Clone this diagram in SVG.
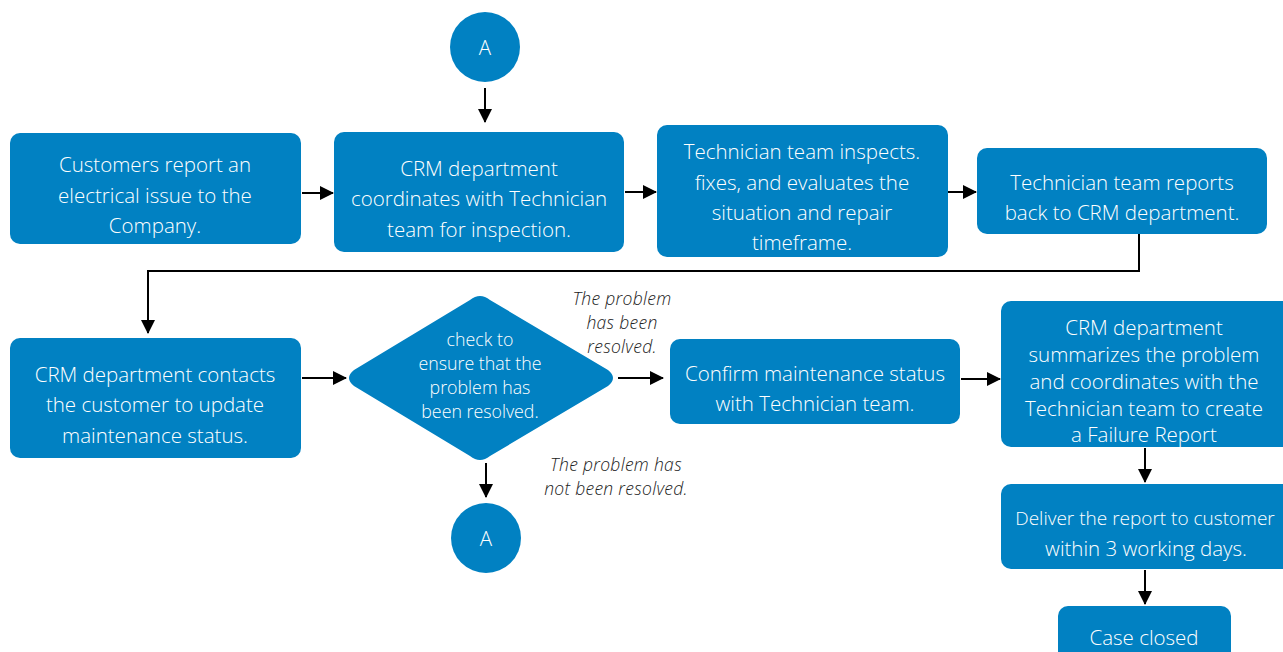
<svg xmlns="http://www.w3.org/2000/svg" width="1283" height="652" viewBox="0 0 1283 652">
  <style>
    .box { fill: #0181c2; }
    .txt { font-family: "Open Sans", "Liberation Sans", sans-serif; font-weight: 300; font-size: 20.5px; fill: #ffffff; text-anchor: middle; dominant-baseline: central; }
    .dtxt { font-size: 17.8px; }
    .note { font-family: "Open Sans", "Liberation Sans", sans-serif; font-weight: 300; font-style: italic; font-size: 17.5px; letter-spacing: 0.3px; fill: #222222; text-anchor: middle; dominant-baseline: central; }
    .conn { fill: none; stroke: #000000; stroke-width: 2; marker-end: url(#arrow); }
  </style>
  <defs>
    <marker id="arrow" markerWidth="14" markerHeight="14" refX="13" refY="7" orient="auto" markerUnits="userSpaceOnUse">
      <path d="M0,0 L14,7 L0,14 Z" fill="#000000"/>
    </marker>
  </defs>

  <rect width="1283" height="652" fill="#ffffff"/>

  <!-- connectors -->
  <g id="connectors">
    <line class="conn" x1="485" y1="88" x2="485" y2="122"/>
    <line class="conn" x1="302" y1="193" x2="333" y2="193"/>
    <line class="conn" x1="625" y1="192" x2="656" y2="192"/>
    <line class="conn" x1="948" y1="192" x2="976" y2="192"/>
    <polyline class="conn" points="1139,234 1139,271 148,271 148,333"/>
    <line class="conn" x1="302" y1="378" x2="346" y2="378"/>
    <line class="conn" x1="618" y1="378" x2="663" y2="378"/>
    <line class="conn" x1="961" y1="379" x2="1000" y2="379"/>
    <line class="conn" x1="1145" y1="448" x2="1145" y2="482"/>
    <line class="conn" x1="1145" y1="570" x2="1145" y2="604"/>
    <line class="conn" x1="486" y1="463" x2="486" y2="497"/>
  </g>

  <!-- connector A (top) -->
  <g id="connector-a-top">
    <ellipse class="box" cx="485" cy="47" rx="35" ry="35"/>
    <text class="txt" x="485" y="47">A</text>
  </g>

  <g id="customer-report">
    <rect class="box" x="10" y="133" width="291" height="111" rx="10"/>
    <text class="txt" x="155" y="164">Customers report an</text>
    <text class="txt" x="155" y="195">electrical issue to the</text>
    <text class="txt" x="155" y="225">Company.</text>
  </g>

  <g id="crm-coordinates">
    <rect class="box" x="334" y="132" width="290" height="120" rx="10"/>
    <text class="txt" x="479" y="168">CRM department</text>
    <text class="txt" x="479" y="198">coordinates with Technician</text>
    <text class="txt" x="479" y="229">team for inspection.</text>
  </g>

  <g id="technician-inspects">
    <rect class="box" x="657" y="125" width="291" height="132" rx="10"/>
    <text class="txt" x="802" y="151">Technician team inspects.</text>
    <text class="txt" x="802" y="182">fixes, and evaluates the</text>
    <text class="txt" x="802" y="212">situation and repair</text>
    <text class="txt" x="802" y="242">timeframe.</text>
  </g>

  <g id="technician-reports">
    <rect class="box" x="977" y="148" width="290" height="86" rx="10"/>
    <text class="txt" x="1122" y="182">Technician team reports</text>
    <text class="txt" x="1122" y="212">back to CRM department.</text>
  </g>

  <g id="crm-contacts">
    <rect class="box" x="10" y="338" width="291" height="120" rx="10"/>
    <text class="txt" x="155" y="374">CRM department contacts</text>
    <text class="txt" x="155" y="404">the customer to update</text>
    <text class="txt" x="155" y="435">maintenance status.</text>
  </g>

  <g id="check-resolved">
    <path class="box" d="M470,300 Q480,292 490,300 L608,370 Q618,378 608,386 L490,456 Q480,464 470,456 L354,386 Q344,378 354,370 Z"/>
    <text class="txt dtxt" x="480" y="339">check to</text>
    <text class="txt dtxt" x="480" y="363">ensure that the</text>
    <text class="txt dtxt" x="480" y="387">problem has</text>
    <text class="txt dtxt" x="480" y="411">been resolved.</text>
  </g>

  <g id="label-resolved">
    <text class="note" x="622" y="298">The problem</text>
    <text class="note" x="622" y="322">has been</text>
    <text class="note" x="622" y="346">resolved.</text>
  </g>

  <g id="label-not-resolved">
    <text class="note" x="616" y="464">The problem has</text>
    <text class="note" x="616" y="488">not been resolved.</text>
  </g>

  <g id="confirm-status">
    <rect class="box" x="670" y="339" width="290" height="85" rx="10"/>
    <text class="txt" x="815" y="373">Confirm maintenance status</text>
    <text class="txt" x="815" y="403">with Technician team.</text>
  </g>

  <g id="failure-report">
    <rect class="box" x="1001" y="301" width="292" height="146" rx="10"/>
    <text class="txt" x="1144" y="327">CRM department</text>
    <text class="txt" x="1144" y="354">summarizes the problem</text>
    <text class="txt" x="1144" y="381">and coordinates with the</text>
    <text class="txt" x="1144" y="408">Technician team to create</text>
    <text class="txt" x="1144" y="434">a Failure Report</text>
  </g>

  <g id="deliver-report">
    <rect class="box" x="1001" y="484" width="292" height="85" rx="10"/>
    <text class="txt" x="1145" y="518" style="font-size:19px">Deliver the report to customer</text>
    <text class="txt" x="1146" y="548">within 3 working days.</text>
  </g>

  <g id="case-closed">
    <rect class="box" x="1058" y="606" width="173" height="60" rx="10"/>
    <text class="txt" x="1144" y="637">Case closed</text>
  </g>

  <!-- connector A (bottom) -->
  <g id="connector-a-bottom">
    <ellipse class="box" cx="486" cy="538" rx="35" ry="35"/>
    <text class="txt" x="486" y="538">A</text>
  </g>
</svg>
